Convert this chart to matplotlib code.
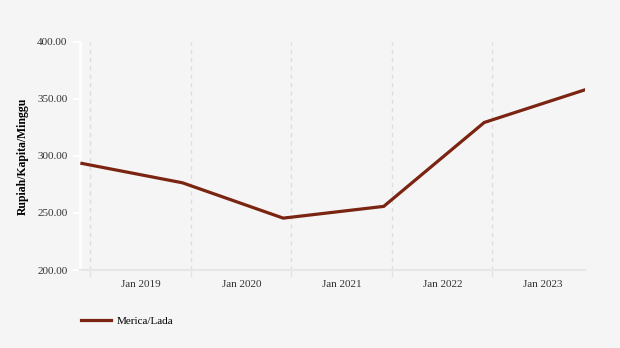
import datetime as dt
import matplotlib
matplotlib.use("Agg")
import matplotlib.pyplot as plt
import matplotlib.dates as mdates

plt.rcParams["font.family"] = ["Liberation Serif", "DejaVu Serif"]

# data: yearly observations (mid-year)
years = [2018, 2019, 2020, 2021, 2022, 2023]
values = [293.5, 276.5, 245.5, 255.8, 329.4, 358.0]
series_name = "Merica/Lada"
y_label = "Rupiah/Kapita/Minggu"
y_ticks = [200, 250, 300, 350, 400]

dates = [dt.date(y, 6, 1) for y in years]

bg = "#f5f5f5"
line_color = "#7a2411"

fig = plt.figure(figsize=(6.2, 3.48), dpi=100, facecolor=bg)
ax = fig.add_axes([80 / 620, 78 / 348, 505 / 620, 228 / 348], facecolor=bg)

ax.plot(dates, values, color=line_color, linewidth=2.3, label=series_name,
        solid_joinstyle="miter", zorder=3)

ax.set_ylim(200, 400)
ax.set_yticks(y_ticks)
ax.set_yticklabels([f"{v:.2f}" for v in y_ticks])
ax.set_xlim(dt.date(2018, 5, 25), dt.date(2023, 6, 2))

# gridlines/ticks at Jul 1, labels at Jan 1
ax.xaxis.set_major_locator(mdates.MonthLocator(bymonth=7))
ax.xaxis.set_major_formatter(plt.NullFormatter())
ax.xaxis.set_minor_locator(mdates.MonthLocator(bymonth=1))
ax.xaxis.set_minor_formatter(mdates.DateFormatter("Jan %Y"))
ax.tick_params(axis="x", which="major", length=5, width=1, color="#e3e3e3")
ax.tick_params(axis="x", which="minor", length=0, pad=7, labelsize=8, labelcolor="#333333")
ax.tick_params(axis="y", length=5, width=1.5, color="white", pad=4,
               labelsize=8, labelcolor="#333333")

ax.grid(axis="x", which="major", color="#dddddd", linestyle=(0, (3, 3)), linewidth=1)

for s in ["top", "right"]:
    ax.spines[s].set_visible(False)
ax.spines["left"].set_color("white")
ax.spines["left"].set_linewidth(1.8)
ax.spines["bottom"].set_color("#e6e6e6")
ax.spines["bottom"].set_linewidth(1.5)

ax.set_ylabel(y_label, fontsize=8.5, fontweight="bold")
ax.yaxis.set_label_coords(-51 / 505, 0.5)

fig.legend(loc="lower left", bbox_to_anchor=(71 / 620, 12 / 348), frameon=False,
           fontsize=8, handlelength=2.7, handletextpad=0.5)

fig.savefig("out.png", dpi=100, facecolor=bg)
